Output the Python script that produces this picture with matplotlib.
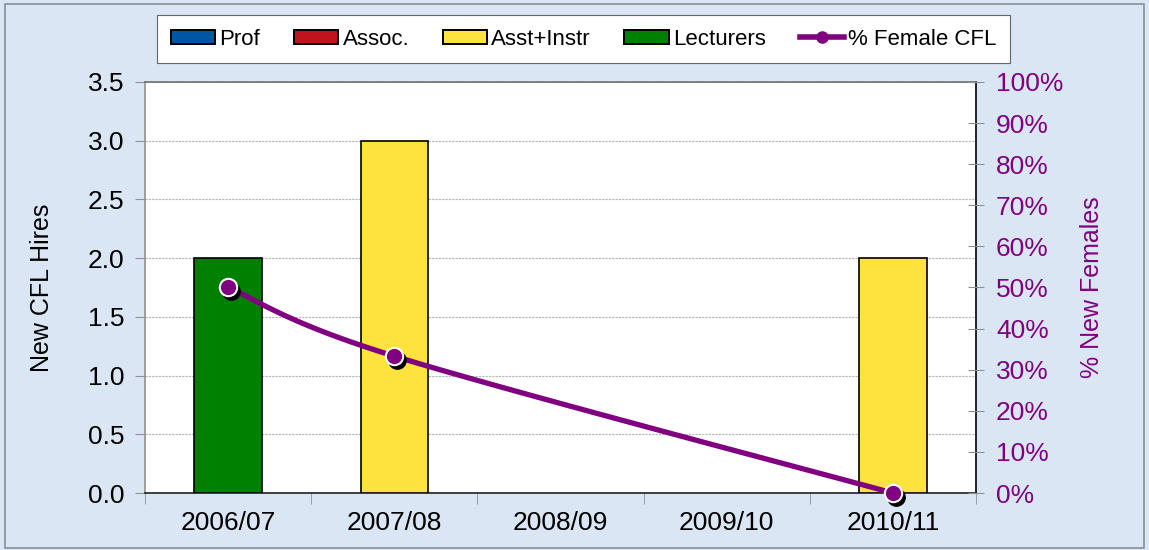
import numpy as np
import matplotlib
matplotlib.use("Agg")
import matplotlib.pyplot as plt
from matplotlib.patches import Patch, Rectangle
from matplotlib.lines import Line2D
from matplotlib.ticker import FuncFormatter, MultipleLocator, FixedLocator
import matplotlib.transforms as mtrans

plt.rcParams['font.family'] = ['Liberation Sans', 'DejaVu Sans']

categories = ["2006/07", "2007/08", "2008/09", "2009/10", "2010/11"]
prof = [0, 0, 0, 0, 0]
assoc = [0, 0, 0, 0, 0]
asst_instr = [0, 3, 0, 0, 2]
lecturers = [2, 0, 0, 0, 0]
pct_female = [0.50, 0.333, np.nan, np.nan, 0.0]

series_names = ["Prof", "Assoc.", "Asst+Instr", "Lecturers"]
series_vals = [prof, assoc, asst_instr, lecturers]
series_colors = ["#0055A5", "#C0141C", "#FEE23E", "#008000"]
purple = "#800080"

fig = plt.figure(figsize=(11.49, 5.5), dpi=100)
fig.patch.set_facecolor("#dae6f4")
fig.patches.append(Rectangle((0.004, 0.004), 0.992, 0.989, transform=fig.transFigure,
                             fill=False, edgecolor="#8a8f96", linewidth=1.2))

ax = fig.add_axes([0.1262, 0.1036, 0.7232, 0.7474])
ax.set_facecolor("white")
x = np.arange(len(categories))
bottom = np.zeros(len(categories))
for name, vals, col in zip(series_names, series_vals, series_colors):
    v = np.array(vals, dtype=float)
    mask = v > 0
    ax.bar(x[mask], v[mask], width=0.405, bottom=bottom[mask], color=col,
           edgecolor="black", linewidth=1.2, zorder=3)
    bottom += v

ax.set_xlim(-0.5, len(categories) - 0.5)
ax.set_ylim(0, 3.5)
ax.yaxis.set_major_locator(MultipleLocator(0.5))
ax.yaxis.set_major_formatter(FuncFormatter(lambda v, p: f"{v:.1f}"))
ax.grid(axis="y", color="#b4b4b4", linewidth=0.8, linestyle=(0, (2, 1)), zorder=0)
ax.set_axisbelow(True)
ax.set_xticks(x)
ax.set_xticklabels(categories, fontsize=19)
ax.tick_params(axis="x", length=0, pad=13)
ax.xaxis.set_minor_locator(FixedLocator(np.arange(-0.5, len(categories), 1.0)))
ax.tick_params(axis="x", which="minor", length=8, color="#909090", direction="out")
ax.tick_params(axis="y", labelsize=19, length=7, color="#909090", direction="out", pad=8)
ax.set_ylabel("New CFL Hires", fontsize=18, labelpad=24)
ax.spines["left"].set_color("#909090")
ax.spines["top"].set_color("#707070")
ax.spines["bottom"].set_color("#202020")
ax.spines["right"].set_color("black")
for s in ax.spines.values():
    s.set_linewidth(1.2)

ax2 = ax.twinx()
ax2.set_ylim(0, 1.0)
ax2.yaxis.set_major_locator(MultipleLocator(0.1))
ax2.yaxis.set_major_formatter(FuncFormatter(lambda v, p: f"{v*100:.0f}%"))
ax2.tick_params(axis="y", labelsize=19, labelcolor=purple, length=11, color="#909090",
                direction="inout", pad=9)
ax2.set_ylabel("% New Females", fontsize=18, color=purple, labelpad=12)
for s in ax2.spines.values():
    s.set_visible(False)

# smooth line (Catmull-Rom style Bezier through valid points)
pv = np.array(pct_female, dtype=float)
ok = ~np.isnan(pv)
px, py = x[ok].astype(float), pv[ok]
P = np.column_stack([px, py])
curve = []
t = np.linspace(0, 1, 60)
for i in range(len(P) - 1):
    p0 = P[i - 1] if i > 0 else P[i]
    p1, p2 = P[i], P[i + 1]
    p3 = P[i + 2] if i + 2 < len(P) else P[i + 1]
    c1 = p1 + (p2 - p0) / 6.0
    c2 = p2 - (p3 - p1) / 6.0
    seg = ((1 - t)[:, None] ** 3) * p1 + 3 * ((1 - t)[:, None] ** 2) * t[:, None] * c1 \
        + 3 * (1 - t)[:, None] * (t[:, None] ** 2) * c2 + (t[:, None] ** 3) * p2
    curve.append(seg)
curve = np.vstack(curve)
ax2.plot(curve[:, 0], curve[:, 1], color=purple, linewidth=3.8, zorder=4,
         solid_capstyle="round", clip_on=False)
shadow = mtrans.offset_copy(ax2.transData, fig=fig, x=3, y=-4, units="dots")
ax2.plot(px, py, linestyle="none", marker="o", markersize=12.5, color="black",
         markeredgecolor="black", transform=shadow, zorder=5, clip_on=False)
ax2.plot(px, py, linestyle="none", marker="o", markersize=12.5, color=purple,
         markeredgecolor="white", markeredgewidth=1.5, zorder=6, clip_on=False)

handles = [Patch(facecolor=c, edgecolor="black", linewidth=1.4, label=n)
           for n, c in zip(series_names, series_colors)]
handles.append(Line2D([0], [0], color=purple, linewidth=4, marker="o", markersize=8,
                      markerfacecolor=purple, markeredgecolor=purple, label="% Female CFL"))
leg = fig.legend(handles=handles, loc="center", bbox_to_anchor=(0.508, 0.929), ncol=5,
                 fontsize=16, frameon=True, fancybox=False, edgecolor="#666666",
                 facecolor="white", framealpha=1, handlelength=2.0, handleheight=0.6,
                 handletextpad=0.2, columnspacing=1.5, borderpad=0.6)
leg.get_frame().set_linewidth(0.8)

fig.savefig("out.png", dpi=100, facecolor=fig.get_facecolor())
